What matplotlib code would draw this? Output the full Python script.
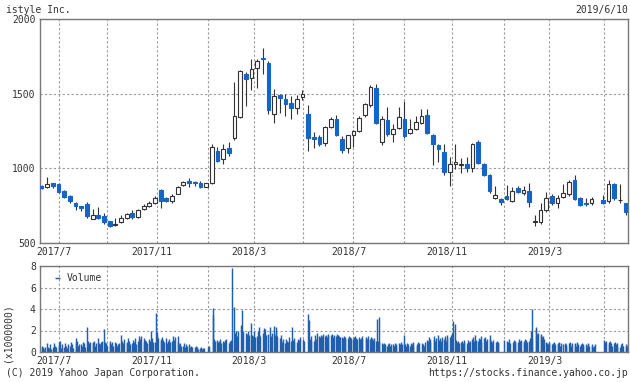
import matplotlib
matplotlib.use('Agg')
import matplotlib.pyplot as plt
from matplotlib.transforms import ScaledTranslation
import numpy as np
import pandas as pd

# 週足 (月曜日付) ... 2019-04-29 の週は休場
weeks = pd.date_range('2017-06-12', '2019-06-03', freq='W-MON')
weeks = weeks[weeks != pd.Timestamp('2019-04-29')]

opens = [882, 873, 900, 893, 851, 818, 769, 747, 762, 664, 689, 678, 644, 620, 638, 667, 700, 673, 727, 749,
         767, 856, 798, 778, 829, 887, 916, 911, 904, 878, 900, 1115, 1060, 1133, 1200, 1347, 1629, 1607, 1674, 1740,
         1707, 1365, 1489, 1467, 1435, 1406, 1478, 1362, 1210, 1212, 1167, 1279, 1328, 1194, 1136, 1221, 1250, 1357, 1422, 1540,
         1176, 1321, 1232, 1272, 1328, 1239, 1261, 1306, 1355, 1223, 1156, 1107, 973, 1027, 1025, 1029, 1000, 1178, 1027, 955,
         799, 792, 815, 783, 870, 837, 850, 640, 643, 721, 815, 766, 810, 826, 922, 799, 770, 766, 788, 783,
         895, 785, 766]
highs = [888, 940, 905, 900, 855, 822, 775, 750, 775, 727, 740, 700, 650, 670, 690, 700, 720, 730, 760, 780,
         815, 860, 810, 830, 880, 915, 935, 915, 915, 905, 1160, 1140, 1160, 1175, 1578, 1660, 1645, 1730, 1730, 1807,
         1720, 1528, 1500, 1500, 1484, 1490, 1522, 1422, 1240, 1220, 1285, 1345, 1355, 1216, 1225, 1260, 1350, 1440, 1556, 1562,
         1350, 1413, 1295, 1413, 1451, 1328, 1350, 1395, 1395, 1230, 1165, 1163, 1074, 1161, 1067, 1074, 1170, 1190, 1035, 960,
         884, 800, 888, 877, 880, 880, 900, 690, 766, 844, 830, 820, 895, 925, 955, 810, 800, 810, 820, 922,
         900, 895, 770]
lows = [860, 870, 870, 835, 800, 770, 722, 711, 670, 660, 660, 630, 610, 615, 633, 660, 660, 665, 720, 740,
        760, 735, 775, 770, 825, 880, 875, 880, 870, 875, 895, 1040, 1030, 1085, 1190, 1340, 1417, 1524, 1540, 1629,
        1366, 1306, 1373, 1350, 1328, 1361, 1460, 1116, 1138, 1150, 1150, 1270, 1215, 1105, 1100, 1145, 1240, 1345, 1410, 1295,
        1154, 1217, 1176, 1261, 1205, 1230, 1255, 1295, 1228, 1022, 1045, 955, 884, 993, 967, 978, 978, 1030, 950, 837,
        795, 754, 785, 775, 835, 820, 743, 612, 627, 710, 755, 732, 799, 815, 785, 750, 750, 755, 760, 770,
        790, 770, 688]
closes = [866, 893, 884, 844, 807, 778, 747, 733, 678, 689, 667, 638, 616, 625, 667, 693, 671, 722, 749, 771,
          800, 778, 782, 818, 878, 909, 900, 900, 878, 900, 1144, 1049, 1127, 1100, 1350, 1651, 1600, 1667, 1720, 1729,
          1388, 1485, 1473, 1433, 1406, 1462, 1500, 1205, 1194, 1165, 1279, 1333, 1223, 1123, 1221, 1250, 1339, 1429, 1547, 1306,
          1333, 1232, 1261, 1344, 1216, 1266, 1310, 1350, 1239, 1161, 1127, 973, 1029, 1040, 1029, 1000, 1163, 1038, 955, 850,
          821, 772, 792, 848, 844, 855, 777, 645, 721, 799, 766, 799, 833, 911, 792, 755, 759, 792, 766, 895,
          799, 787, 705]

# 日次出来高 (百万株)
days = pd.bdate_range('2017-06-12', '2019-06-07')
volume = [
    0.6, 0.4, 0.5, 0.3, 0.5,  0.8, 0.5, 0.4, 0.7, 0.3,  0.5, 0.8, 0.4, 0.6, 0.5,  0.9, 0.6, 1.0, 0.4, 0.7,
    0.5, 0.8, 0.6, 0.4, 0.7,  0.6, 0.9, 0.5, 0.7, 0.4,  1.3, 0.8, 1.0, 0.6, 0.7,  0.7, 0.6, 0.9, 0.8, 0.5,
    2.3, 1.0, 0.8, 0.7, 0.9,  0.8, 0.9, 1.0, 0.6, 0.8,  1.3, 0.8, 0.7, 0.9, 1.0,  2.1, 0.9, 0.7, 0.8, 0.6,
    0.8, 1.0, 0.7, 0.9, 0.6,  0.9, 0.8, 0.6, 0.7, 0.8,  1.6, 1.0, 0.8, 0.7, 1.2,  0.9, 0.8, 1.3, 1.0, 0.7,
    0.8, 1.1, 0.9, 1.3, 0.7,  1.0, 1.5, 1.2, 0.8, 1.5,  1.3, 0.9, 1.1, 1.0, 0.8,  1.2, 1.0, 2.0, 1.3, 0.9,
    0.9, 3.6, 1.9, 1.5, 1.3,  1.2, 1.0, 1.4, 1.1, 0.9,  1.3, 0.8, 1.0, 1.2, 0.9,  1.0, 1.5, 1.1, 0.8, 1.4,
    1.5, 0.9, 0.7, 0.8, 0.6,  0.6, 0.8, 0.5, 0.7, 0.6,  0.7, 0.5, 0.6, 0.4, 0.5,  0.5, 0.6, 0.4, 0.5, 0.3,
    0.4, 0.5, 0.3, 0.4, 0.4,  0.0, 0.0, 0.0, 0.5, 0.6,  0.0, 3.4, 4.1, 1.2, 1.0,  1.1, 0.9, 1.0, 1.2, 0.8,
    1.0, 0.9, 1.1, 0.8, 1.2,  0.8, 1.0, 0.9, 1.1, 7.8,  4.2, 1.8, 2.0, 1.5, 2.0,  0.0, 2.5, 1.8, 3.9, 2.0,
    1.8, 1.5, 1.7, 2.0, 1.6,  2.7, 1.6, 1.5, 2.0, 1.4,  1.5, 2.0, 2.3, 1.7, 1.5,  1.8, 2.2, 1.5, 2.1, 1.6,
    1.7, 0.0, 2.3, 1.5, 1.8,  2.4, 1.6, 1.9, 2.3, 1.5,  1.3, 1.6, 1.0, 0.9, 1.2,  0.8, 1.2, 1.0, 0.9, 1.4,
    1.0, 2.3, 1.1, 0.9, 1.3,  0.9, 1.2, 0.8, 1.1, 1.4,  0.0, 1.2, 1.0, 0.0, 0.0,  3.5, 3.0, 1.2, 1.0, 1.5,
    1.0, 1.1, 1.6, 1.2, 1.8,  1.5, 1.4, 1.6, 1.5, 1.7,  1.5, 1.6, 1.4, 1.7, 1.5,  1.6, 1.5, 1.7, 1.4, 1.6,
    1.5, 1.7, 1.6, 1.5, 1.4,  1.4, 1.3, 1.5, 1.2, 1.4,  1.3, 1.5, 1.2, 1.4, 1.3,  1.2, 1.4, 1.5, 1.3, 1.2,
    1.4, 1.2, 1.3, 1.5, 1.2,  0.0, 1.3, 1.4, 1.2, 1.5,  1.2, 1.4, 1.3, 1.1, 1.3,  1.0, 3.1, 1.0, 0.9, 3.3,
    0.8, 0.7, 0.6, 0.8, 0.7,  0.6, 0.7, 0.8, 0.6, 0.7,  0.7, 0.6, 0.8, 0.7, 0.6,  0.8, 0.7, 0.6, 0.9, 0.7,
    1.6, 0.7, 0.6, 0.8, 0.7,  0.6, 0.8, 0.7, 0.6, 0.9,  0.0, 0.7, 0.6, 0.9, 0.8,  0.0, 0.8, 0.7, 0.6, 0.9,
    1.1, 1.0, 1.4, 0.9, 1.2,  0.0, 1.2, 1.5, 1.0, 1.3,  1.6, 1.1, 1.3, 1.0, 1.4,  1.2, 1.5, 1.0, 1.6, 1.3,
    1.4, 1.2, 1.6, 1.8, 2.9,  2.6, 1.1, 0.9, 1.0, 0.8,  0.9, 1.0, 0.8, 1.1, 0.9,  0.8, 1.1, 0.0, 0.9, 1.0,
    1.2, 1.4, 1.0, 1.6, 1.1,  1.0, 1.3, 1.2, 0.9, 1.5,  1.3, 1.1, 1.4, 1.0, 1.2,  1.6, 1.2, 1.0, 0.9, 1.1,
    0.0, 0.9, 1.0, 0.8, 0.9,  0.0, 0.0, 0.0, 0.0, 1.1,  0.0, 1.0, 0.9, 1.2, 0.8,  0.0, 0.9, 1.1, 0.8, 1.0,
    0.9, 1.2, 0.8, 1.0, 1.1,  1.0, 0.9, 1.2, 1.1, 0.9,  1.0, 1.3, 2.0, 1.2, 4.0,  0.0, 2.3, 2.1, 1.7, 1.8,
    1.7, 1.6, 1.4, 1.5, 1.2,  0.9, 0.8, 0.7, 0.9, 0.8,  0.7, 0.8, 0.6, 0.9, 0.7,  0.8, 0.7, 0.9, 0.6, 0.8,
    0.7, 0.0, 0.8, 0.6, 0.7,  0.8, 0.9, 0.7, 0.6, 0.8,  0.7, 0.8, 0.6, 0.9, 0.7,  0.6, 0.7, 0.8, 0.6, 0.7,
    0.7, 0.6, 0.8, 0.7, 0.6,  0.6, 0.7, 0.5, 0.6, 0.7,  0.0, 0.0, 0.0, 0.0, 0.0,  0.0, 1.1, 0.9, 0.8, 1.0,
    0.9, 0.7, 1.0, 0.8, 0.6,  0.8, 0.9, 0.7, 0.6, 0.8,  0.5, 0.7, 0.6, 0.8, 0.6,  0.7, 0.5, 0.6, 0.7, 0.5,
]

grid_dates = ['2017-07-03', '2017-09-01', '2017-11-01', '2018-01-04', '2018-03-01', '2018-05-01',
              '2018-07-02', '2018-09-03', '2018-11-01', '2019-01-04', '2019-03-01', '2019-05-07']
grid_labels = ['2017/7', '', '2017/11', '', '2018/3', '', '2018/7', '', '2018/11', '', '2019/3', '']

blue = '#1565c8'
vol_blue = '#1f5fae'
edge = '#333333'
txt = '#333333'
plt.rcParams['font.family'] = ['DejaVu Sans Mono']
plt.rcParams['font.size'] = 7

fig = plt.figure(figsize=(6.3, 3.82), dpi=100)
ax = fig.add_axes([40/630, 1 - 243/382, 588/630, 224/382])
ax2 = fig.add_axes([40/630, 1 - 352/382, 588/630, 86/382])

# ローソク足
o = np.array(opens); c = np.array(closes)
up = c >= o
body_low = np.minimum(o, c)
body_h = np.maximum(np.abs(c - o), 3)
ax.vlines(weeks, lows, highs, color=edge, lw=0.8, zorder=2)
ax.bar(weeks[up], body_h[up], bottom=body_low[up], width=4.6, color='white',
       edgecolor=edge, linewidth=0.8, zorder=3)
ax.bar(weeks[~up], body_h[~up], bottom=body_low[~up], width=4.6, color=blue,
       edgecolor=blue, linewidth=0.8, zorder=3)

# 出来高 (1日1本)
ax2.vlines(days, 0, volume, color=vol_blue, lw=1.05, label='Volume')

xmin, xmax = pd.Timestamp('2017-06-10'), pd.Timestamp('2019-06-06')
gd = pd.to_datetime(grid_dates)
for a in (ax, ax2):
    a.set_xlim(xmin, xmax)
    a.set_xticks(gd)
    a.set_xticklabels(grid_labels)
    a.grid(True, color='#999999', linestyle=(0, (2, 2)), linewidth=0.8)
    a.set_axisbelow(True)
    a.tick_params(length=0, pad=3, colors=txt, labelsize=7)
    for s in a.spines.values():
        s.set_color('#777777')
        s.set_linewidth(1)
    for lbl in a.get_xticklabels():
        lbl.set_transform(lbl.get_transform() + ScaledTranslation(-5/100, 0, fig.dpi_scale_trans))

ax.set_ylim(500, 2000)
ax.set_yticks([500, 1000, 1500, 2000])
ax2.set_ylim(0, 8)
ax2.set_yticks([0, 2, 4, 6, 8])

leg = ax2.legend(loc='upper left', bbox_to_anchor=(0.01, 1.02), frameon=False,
                 handlelength=0.6, handletextpad=0.6, fontsize=7)
for t in leg.get_texts():
    t.set_color(txt)

fig.text(8/630, 1 - 333/382, '(x1000000)', rotation=90, ha='center', va='center', color=txt, fontsize=7)
fig.text(6/630, 1 - 10/382, 'istyle Inc.', ha='left', va='center', color=txt, fontsize=7)
fig.text(628/630, 1 - 10/382, '2019/6/10', ha='right', va='center', color=txt, fontsize=7)
fig.text(6/630, 1 - 373/382, '(C) 2019 Yahoo Japan Corporation.', ha='left', va='center', color=txt, fontsize=7)
fig.text(628/630, 1 - 373/382, 'https://stocks.finance.yahoo.co.jp', ha='right', va='center', color=txt, fontsize=7)

fig.savefig('out.png', dpi=100, facecolor='white')
